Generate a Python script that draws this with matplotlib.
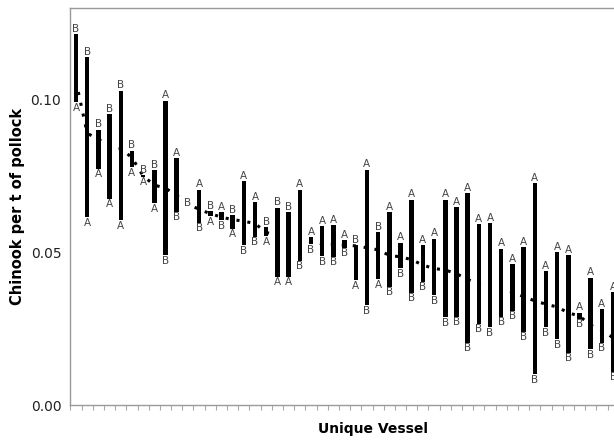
import matplotlib
matplotlib.use("Agg")
import matplotlib.pyplot as plt
import numpy as np
from matplotlib.ticker import FixedLocator, NullFormatter

# Per-vessel estimates (vessels ordered by mean, descending)
est_a = [0.0991, 0.0615, 0.0773, 0.0675, 0.0605, 0.0779, 0.0748, 0.0661, 0.0997, 0.0809,
         0.0660, 0.0705, 0.0618, 0.0632, 0.0577, 0.0733, 0.0664, 0.0552, 0.0419, 0.0419,
         0.0705, 0.0550, 0.0585, 0.0588, 0.0539, 0.0408, 0.0770, 0.0411, 0.0632, 0.0531,
         0.0672, 0.0523, 0.0545, 0.0672, 0.0648, 0.0694, 0.0592, 0.0596, 0.0512, 0.0461,
         0.0517, 0.0727, 0.0439, 0.0501, 0.0490, 0.0302, 0.0417, 0.0313, 0.0370]
est_b = [0.1215, 0.1138, 0.0901, 0.0953, 0.1029, 0.0833, 0.0752, 0.0768, 0.0490, 0.0632,
         0.0660, 0.0596, 0.0635, 0.0605, 0.0621, 0.0523, 0.0550, 0.0583, 0.0646, 0.0632,
         0.0472, 0.0526, 0.0487, 0.0485, 0.0515, 0.0523, 0.0327, 0.0566, 0.0387, 0.0447,
         0.0367, 0.0403, 0.0359, 0.0287, 0.0289, 0.0204, 0.0265, 0.0254, 0.0289, 0.0308,
         0.0240, 0.0100, 0.0254, 0.0215, 0.0171, 0.0283, 0.0182, 0.0204, 0.0109]
trend = [0.106, 0.089, 0.087, 0.085, 0.084, 0.081, 0.075, 0.072, 0.071, 0.0686,
         0.066, 0.064, 0.0627, 0.0615, 0.0607, 0.0602, 0.0594, 0.0565, 0.0555, 0.055,
         0.0544, 0.0535, 0.0527, 0.0526, 0.0524, 0.0521, 0.0515, 0.0508, 0.049, 0.0485,
         0.0476, 0.0458, 0.0447, 0.0442, 0.043, 0.0411, 0.0396, 0.039, 0.038, 0.037,
         0.0355, 0.0341, 0.033, 0.0321, 0.0302, 0.0291, 0.0261, 0.0245, 0.022]
n_vessels_total = 54
y_ticks = [0.0, 0.05, 0.10]
y_ticklabels = ["0.00", "0.05", "0.10"]

fig = plt.figure(figsize=(6.14, 4.40), dpi=100)
W, H = 614, 440
ax_left, ax_bottom, ax_top = 70.4, 405, 8
unit = 11.19
ax_width = n_vessels_total * unit
ax = fig.add_axes([ax_left / W, (H - ax_bottom) / H, ax_width / W, (ax_bottom - ax_top) / H])

x = np.arange(len(est_a))
a = np.array(est_a)
b = np.array(est_b)
lo = np.minimum(a, b)
hi = np.maximum(a, b)

ax.bar(x, hi - lo, bottom=lo, width=0.4, color="black", zorder=3)
ax.plot(x, trend, color="black", linestyle=(0, (1, 2.6)), linewidth=2.2, zorder=4)

lab_kw = dict(fontsize=7.5, color="#444444", ha="center", zorder=5)
for i in range(len(x)):
    if a[i] == b[i]:
        ax.annotate("A", (x[i], a[i]), xytext=(0, 0), textcoords="offset points", va="center", **lab_kw)
        ax.annotate("B", (x[i], b[i]), xytext=(0, 0), textcoords="offset points", va="center",
                    bbox=dict(boxstyle="square,pad=0", fc="white", ec="none"), **lab_kw)
        continue
    top_lab, bot_lab = ("A", "B") if a[i] > b[i] else ("B", "A")
    ax.annotate(top_lab, (x[i], hi[i]), xytext=(0, 0.3), textcoords="offset points", va="bottom", **lab_kw)
    ax.annotate(bot_lab, (x[i], lo[i]), xytext=(0, -0.3), textcoords="offset points", va="top", **lab_kw)

ax.set_xlim(-0.5, n_vessels_total - 0.5)
ax.set_ylim(0, 0.13)
ax.set_yticks(y_ticks)
ax.set_yticklabels(y_ticklabels)
ax.tick_params(axis="y", length=0, labelsize=10, pad=6.5, colors="#222222")
ax.xaxis.set_major_locator(FixedLocator([]))
ax.xaxis.set_minor_locator(FixedLocator(np.arange(-0.5, n_vessels_total, 1.0)))
ax.xaxis.set_minor_formatter(NullFormatter())
ax.tick_params(axis="x", which="minor", length=3.5, width=0.8, color="#aaaaaa", direction="out")

for s in ax.spines.values():
    s.set_color("#999999")
    s.set_linewidth(1.0)

ax.set_ylabel("Chinook per t of pollock", fontsize=10.5, fontweight="bold", labelpad=4)
ax.set_xlabel("Unique Vessel", fontsize=10, fontweight="bold", labelpad=5)

fig.savefig("out.png", dpi=100)
